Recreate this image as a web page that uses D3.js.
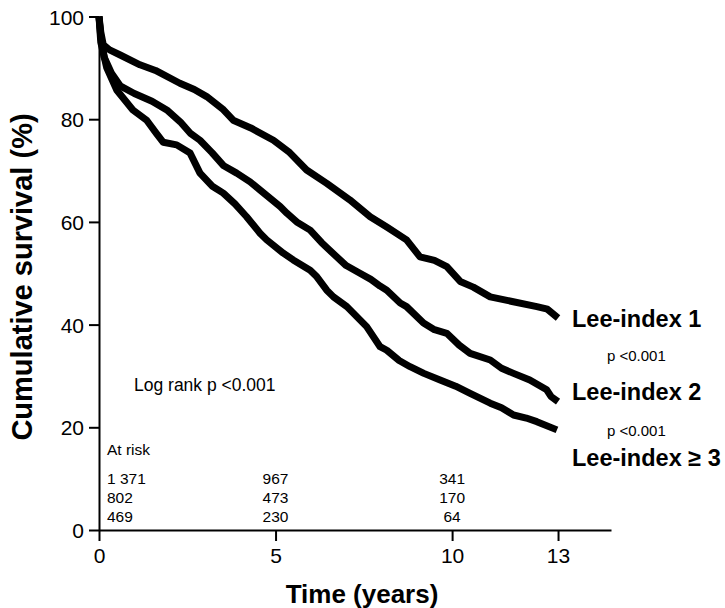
<!DOCTYPE html>
<html>
<head>
<meta charset="utf-8">
<script src="https://cdn.jsdelivr.net/npm/d3@7"></script>
<style>
  html, body { margin: 0; padding: 0; background: #fff; }
  svg text { font-family: "Liberation Sans", Arial, Helvetica, sans-serif; fill: #000; }
</style>
</head>
<body>
<svg id="chart" width="725" height="608"></svg>
<script>
// ---- data ----
const xTicks = [0, 5, 10, 13];
const yTicks = [0, 20, 40, 60, 80, 100];

const lee1Time = [0, 0.05, 0.12, 0.3, 0.6, 1.16, 1.6, 2.29, 2.7, 3.05, 3.5, 3.8, 4.3, 4.94, 5.4, 5.88, 6.45, 7.1, 7.68, 8.15, 8.71, 9.09, 9.5, 9.85, 10.23, 10.6, 11.08, 11.7, 12.4, 12.7, 13.0];
const lee1Surv = [100, 97, 94.5, 93.5, 92.5, 90.6, 89.5, 87.0, 85.8, 84.4, 82, 79.8, 78.3, 75.9, 73.5, 70.1, 67.5, 64.3, 61, 59, 56.5, 53.2, 52.5, 51.3, 48.4, 47.3, 45.4, 44.5, 43.5, 43, 41.3];

const lee2Time = [0, 0.05, 0.15, 0.35, 0.6, 1.0, 1.5, 1.92, 2.3, 2.58, 2.86, 3.2, 3.52, 3.9, 4.28, 4.56, 5.13, 5.32, 5.6, 5.98, 6.3, 6.73, 7.0, 7.39, 7.7, 7.96, 8.15, 8.53, 8.71, 9.19, 9.5, 9.85, 10.2, 10.51, 11.08, 11.4, 11.74, 12.2, 12.68, 12.8, 13.0];
const lee2Surv = [100, 96, 92, 89, 86.5, 85, 83.5, 81.8, 79.5, 77.3, 75.9, 73.5, 71, 69.5, 67.8, 66.2, 63, 61.7, 60, 58.4, 56, 53.2, 51.5, 50, 48.8, 47.5, 46.7, 44.2, 43.5, 40.3, 39, 38.3, 36, 34.4, 33.1, 31.5, 30.5, 29.2, 27.3, 26, 25];

const lee3Time = [0, 0.05, 0.22, 0.5, 0.96, 1.35, 1.63, 1.82, 2.2, 2.58, 2.86, 3.2, 3.52, 3.85, 4.18, 4.56, 4.75, 5.22, 5.5, 5.98, 6.17, 6.45, 6.64, 7.02, 7.58, 7.96, 8.15, 8.5, 8.81, 9.2, 9.66, 10.1, 10.51, 11.08, 11.4, 11.74, 12.1, 12.4, 12.97];
const lee3Surv = [100, 95, 90, 85.7, 81.8, 79.8, 77.2, 75.5, 75, 73.4, 69.5, 67, 65.6, 63.5, 61, 57.8, 56.5, 53.9, 52.6, 50.6, 49.3, 46.7, 45.4, 43.5, 39.6, 35.7, 35, 33, 31.8, 30.5, 29.2, 28, 26.6, 24.7, 23.8, 22.4, 21.8, 21.1, 19.5];

const groupLabels = ["Lee-index 1", "Lee-index 2", "Lee-index \u2265 3"];
const pairP = ["p <0.001", "p <0.001"];
const logRank = "Log rank p <0.001";
const atRiskTitle = "At risk";
const atRiskTimes = [0, 5, 10];
const atRisk1 = ["1 371", "967", "341"];
const atRisk2 = ["802", "473", "170"];
const atRisk3 = ["469", "230", "64"];

// ---- drawing ----
const svg = d3.select("#chart");
const x = d3.scaleLinear().domain([0, 14.5]).range([99, 611]);
const y = d3.scaleLinear().domain([0, 100]).range([530, 16.5]);

// axes
const yAxis = svg.append("g").attr("transform", `translate(${x(0)},0)`)
  .call(d3.axisLeft(y).tickValues(yTicks).tickSize(10).tickSizeOuter(0).tickPadding(5));
const xAxis = svg.append("g").attr("transform", `translate(0,${y(0)})`)
  .call(d3.axisBottom(x).tickValues(xTicks).tickSize(11).tickSizeOuter(0).tickPadding(7));
[yAxis, xAxis].forEach(g => {
  g.selectAll("path,line").attr("stroke", "#000").attr("stroke-width", 2);
  g.selectAll("text").style("font-size", "21px").attr("fill", "#000");
});
yAxis.selectAll("text").attr("dy", "0.36em");

// curves
const line = d3.line().x(d => x(d[0])).y(d => y(d[1]));
const series = [
  d3.zip(lee1Time, lee1Surv),
  d3.zip(lee2Time, lee2Surv),
  d3.zip(lee3Time, lee3Surv)
];
svg.append("g").selectAll("path").data(series).join("path")
  .attr("d", line)
  .attr("fill", "none")
  .attr("stroke", "#000")
  .attr("stroke-width", 7)
  .attr("stroke-linejoin", "round");

// axis titles
svg.append("text")
  .attr("x", 362).attr("y", 603)
  .attr("text-anchor", "middle")
  .style("font-size", "26px").style("font-weight", "bold")
  .text("Time (years)");
svg.append("text")
  .attr("transform", "translate(32,277) rotate(-90)")
  .attr("text-anchor", "middle")
  .style("font-size", "29px").style("font-weight", "bold")
  .text("Cumulative survival (%)");

// group labels
const labelY = [327, 400, 466];
svg.append("g").selectAll("text").data(groupLabels).join("text")
  .attr("x", 572).attr("y", (d, i) => labelY[i])
  .style("font-size", "23.5px").style("font-weight", "bold")
  .text(d => d);
const pY = [361, 436];
svg.append("g").selectAll("text").data(pairP).join("text")
  .attr("x", 607).attr("y", (d, i) => pY[i])
  .style("font-size", "15px")
  .text(d => d);

// log rank
svg.append("text").attr("x", 134).attr("y", 391)
  .style("font-size", "17.5px").text(logRank);

// at risk table
svg.append("text").attr("x", 107).attr("y", 455)
  .style("font-size", "15.5px").text(atRiskTitle);
const rows = [atRisk1, atRisk2, atRisk3];
const rowY = [484, 503, 522];
rows.forEach((row, r) => {
  row.forEach((val, c) => {
    const t = atRiskTimes[c];
    svg.append("text")
      .attr("x", t === 0 ? 107 : x(t))
      .attr("y", rowY[r])
      .attr("text-anchor", t === 0 ? "start" : "middle")
      .style("font-size", "15.5px")
      .text(val);
  });
});
</script>
</body>
</html>
